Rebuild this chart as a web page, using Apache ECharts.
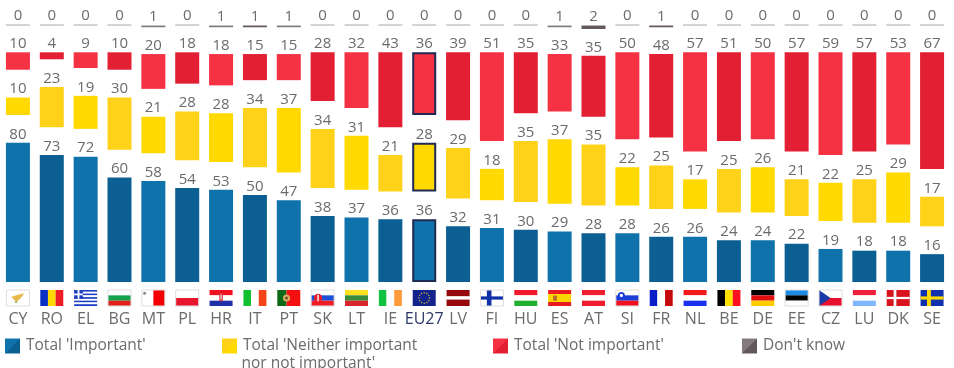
<!DOCTYPE html>
<html><head><meta charset="utf-8">
<style>html,body{margin:0;padding:0;background:#fff}#c{width:954px;height:368px}</style>
<script src="https://cdn.jsdelivr.net/npm/echarts@6/dist/echarts.min.js"></script>
</head><body><div id="c"></div>
<script>
var categories=['CY','RO','EL','BG','MT','PL','HR','IT','PT','SK','LT','IE','EU27','LV','FI','HU','ES','AT','SI','FR','NL','BE','DE','EE','CZ','LU','DK','SE'];
var important=[80,73,72,60,58,54,53,50,47,38,37,36,36,32,31,30,29,28,28,26,26,24,24,22,19,18,18,16];
var neither=[10,23,19,30,21,28,28,34,37,34,31,21,28,29,18,35,37,35,22,25,17,25,26,21,22,25,29,17];
var notImportant=[10,4,9,10,20,18,18,15,15,28,32,43,36,39,51,35,33,35,50,48,57,51,50,57,59,57,53,67];
var dontKnow=[0,0,0,0,1,0,1,1,1,0,0,0,0,0,0,0,1,2,0,1,0,0,0,0,0,0,0,0];

var GAP=16, DK_TOP=147.4, EU='EU27', NAVY='#1f2a52';
var TXT='#6b6a6d', FONT='"Open Sans",sans-serif';
var blue=['#1072ab','#0c5f92'], yellow=['#ffd900','#ffd21a'], red=['#f53243','#e21f33'], grey=['#827a7e','#63585c'];

function cells(vals,tones){
  return vals.map(function(v,i){
    var eu=categories[i]===EU;
    return {value:v,itemStyle:{color:tones[i%2],borderColor:eu?NAVY:null,borderWidth:eu?2:0}};
  });
}
function gapSeries(data){
  return {type:'bar',stack:'t',silent:true,barWidth:24,data:data,itemStyle:{color:'transparent'},label:{show:false},emphasis:{disabled:true}};
}
function valueSeries(name,vals,tones){
  return {name:name,type:'bar',stack:'t',barWidth:24,data:cells(vals,tones),
    label:{show:true,position:'top',distance:1,color:TXT,fontFamily:FONT,fontSize:15}};
}
var gaps=categories.map(function(){return GAP;});
var dkGap=categories.map(function(_,i){return DK_TOP-dontKnow[i]-important[i]-neither[i]-notImportant[i]-2*GAP;});
var dkData=dontKnow.map(function(v,i){return {value:v,itemStyle:{color:v===0?'#a9a7a8':grey[i%2]}};});

// flags: stripes [direction, [colour, weight]...] plus an optional device
var flags={
 CY:{d:'h',s:[['#fff',1]],x:'cy',o:1},RO:{d:'v',s:[['#0a2fc4',1],['#ffd800',1],['#ee1c25',1]]},
 EL:{d:'h',s:[['#1c3fc4',1],['#fff',1],['#1c3fc4',1],['#fff',1],['#1c3fc4',1],['#fff',1],['#1c3fc4',1],['#fff',1],['#1c3fc4',1]],x:'el'},
 BG:{d:'h',s:[['#fff',1],['#13a24a',1],['#e0201b',1]],o:1},MT:{d:'v',s:[['#fff',1],['#f40000',1]],x:'mt',o:1},
 PL:{d:'h',s:[['#fff',1],['#e8152f',1]],o:1},HR:{d:'h',s:[['#f01020',1],['#fff',1],['#2030a8',1]],x:'hr'},
 IT:{d:'v',s:[['#10c030',1],['#fff',1],['#f4451a',1]]},PT:{d:'v',s:[['#0c6a18',2],['#f21010',3]],x:'pt'},
 SK:{d:'h',s:[['#fff',1],['#1a4fd8',1],['#ee1c25',1]],x:'sk',o:1},LT:{d:'h',s:[['#fde020',1],['#3a8a3c',1],['#d8262c',1]]},
 IE:{d:'v',s:[['#10c040',1],['#fff',1],['#ff9a3a',1]]},EU27:{d:'h',s:[['#14238c',1]],x:'eu'},
 LV:{d:'h',s:[['#960a0e',2],['#fff',1],['#960a0e',2]]},FI:{d:'h',s:[['#fff',1]],x:'fi',o:1},
 HU:{d:'h',s:[['#f0182a',1],['#fff',1],['#22b030',1]]},ES:{d:'h',s:[['#e81c20',1],['#ffd400',2],['#e81c20',1]],x:'es'},
 AT:{d:'h',s:[['#f01c30',1],['#fff',1],['#f01c30',1]]},SI:{d:'h',s:[['#fff',1],['#1c3ed8',1],['#f01020',1]],x:'si',o:1},
 FR:{d:'v',s:[['#0a1ec8',1],['#fff',1],['#c40a0a',1]]},NL:{d:'h',s:[['#f4181c',1],['#fff',1],['#1c30f0',1]]},
 BE:{d:'v',s:[['#000',1],['#ffe000',1],['#ff0f1f',1]]},DE:{d:'h',s:[['#000',1],['#e01010',1],['#ffcc00',1]]},
 EE:{d:'h',s:[['#1a8ce8',1],['#000',1],['#fff',1]],o:1},CZ:{d:'h',s:[['#fff',1],['#e81030',1]],x:'cz',o:1},
 LU:{d:'h',s:[['#f0203a',1],['#fff',1],['#80b8ff',1]]},DK:{d:'h',s:[['#d8141e',1]],x:'dk'},SE:{d:'h',s:[['#1030b0',1]],x:'se'}
};
function rect(x,y,w,h,c){return {type:'rect',shape:{x:x,y:y,width:w,height:h},style:{fill:c}};}
function dot(x,y,r,c){return {type:'circle',shape:{cx:x,cy:y,r:r},style:{fill:c}};}
function flagDevice(k,x,y,w,h){
  switch(k){
    case 'cy':return [{type:'polygon',shape:{points:[[x+w*.22,y+h*.42],[x+w*.5,y+h*.3],[x+w*.78,y+h*.2],[x+w*.6,y+h*.55],[x+w*.45,y+h*.72],[x+w*.32,y+h*.6]]},style:{fill:'#e9b84a'}},dot(x+w*.42,y+h*.74,1.4,'#a8bd70')];
    case 'el':return [rect(x,y,w*.38,h*.55,'#1c3fc4'),rect(x,y+h*.22,w*.38,h*.11,'#fff'),rect(x+w*.15,y,w*.08,h*.55,'#fff')];
    case 'mt':return [dot(x+w*.12,y+h*.2,1.5,'#8a8a8a')];
    case 'hr':return [rect(x+w*.42,y+h*.2,w*.16,h*.5,'#d8404a'),rect(x+w*.47,y+h*.3,w*.06,h*.3,'#f4c8cc')];
    case 'pt':return [dot(x+w*.4,y+h*.5,h*.22,'#d8b060'),dot(x+w*.4,y+h*.5,h*.1,'#7a5040')];
    case 'sk':return [dot(x+w*.3,y+h*.5,h*.26,'#ee1c25'),rect(x+w*.27,y+h*.3,w*.06,h*.4,'#fff')];
    case 'eu':return Array.from({length:12},function(_,i){var a=i*Math.PI/6;return dot(x+w/2+h*.33*Math.cos(a),y+h/2+h*.33*Math.sin(a),.7,'#d8c830');});
    case 'fi':return [rect(x+w*.28,y,w*.2,h,'#1030a8'),rect(x,y+h*.4,w,h*.2,'#1030a8')];
    case 'es':return [rect(x+w*.22,y+h*.35,w*.16,h*.32,'#b8682c')];
    case 'si':return [dot(x+w*.24,y+h*.34,h*.22,'#1c3ed8'),dot(x+w*.24,y+h*.34,h*.1,'#fff')];
    case 'cz':return [{type:'polygon',shape:{points:[[x,y],[x+w*.5,y+h/2],[x,y+h]]},style:{fill:'#1a3aa8'}}];
    case 'dk':return [rect(x+w*.3,y,w*.12,h,'#fff'),rect(x,y+h*.43,w,h*.14,'#fff')];
    case 'se':return [rect(x+w*.28,y,w*.17,h,'#ffd800'),rect(x,y+h*.4,w,h*.2,'#ffd800')];
  }
  return [];
}
function renderFlag(params,api){
  var code=categories[api.value(0)], f=flags[code], p=api.coord([api.value(0),0]);
  var w=23,h=16,x=p[0]-w/2,y=p[1]+8,kids=[];
  var total=f.s.reduce(function(a,b){return a+b[1];},0),pos=0;
  f.s.forEach(function(st){
    var frac=st[1]/total;
    kids.push(f.d==='h'?rect(x,y+pos*h,w,frac*h,st[0]):rect(x+pos*w,y,frac*w,h,st[0]));
    pos+=frac;
  });
  if(f.x)kids=kids.concat(flagDevice(f.x,x,y,w,h));
  if(f.o)kids.push({type:'rect',shape:{x:x,y:y,width:w,height:h},style:{fill:'none',stroke:'#dedede',lineWidth:1}});
  return {type:'group',children:kids};
}
function split(a,b){
  return {type:'linear',x:0,y:0,x2:1,y2:1,colorStops:[{offset:0,color:a},{offset:.5,color:a},{offset:.5,color:b},{offset:1,color:b}]};
}
var legendItems=[
 {name:"Total 'Important'",left:5,c:split(blue[0],blue[1])},
 {name:"Total 'Neither important nor not important'",left:222,c:split(yellow[1],yellow[0]),first:"Total 'Neither important"},
 {name:"Total 'Not important'",left:493,c:split(red[0],red[1])},
 {name:"Don't know",left:742,c:split(grey[0],grey[1])}
];
var option={
 animation:false,
 grid:{left:1,right:5,top:3.6,bottom:86},
 xAxis:{type:'category',data:categories,axisLine:{show:false},axisTick:{show:false},
   axisLabel:{interval:0,margin:29,color:TXT,fontFamily:FONT,fontSize:16,
     formatter:function(v){return v===EU?'{eu|'+v+'}':v;},
     rich:{eu:{color:'#2b3a66',fontFamily:FONT,fontSize:16}}}},
 yAxis:{type:'value',min:0,max:160,show:false,splitLine:{show:false}},
 legend:legendItems.map(function(l){return {
   data:[{name:l.name,itemStyle:{color:l.c,borderWidth:0}}],left:l.left,top:338,padding:0,itemWidth:15,itemHeight:15,itemGap:0,
   icon:'rect',selectedMode:false,
   textStyle:{color:TXT,fontFamily:FONT,fontSize:15.5,padding:[0,0,0,1]},
   formatter:function(){return l.first||l.name;}
 };}),
 graphic:[{type:'text',left:241.5,top:355.5,style:{text:"nor not important'",fill:TXT,font:'15.5px "Open Sans",sans-serif'}}],
 series:[
  valueSeries(legendItems[0].name,important,blue),gapSeries(gaps),
  valueSeries(legendItems[1].name,neither,yellow),gapSeries(gaps),
  valueSeries(legendItems[2].name,notImportant,red),gapSeries(dkGap),
  {name:legendItems[3].name,type:'bar',stack:'t',barWidth:24,barMinHeight:1,data:dkData,
    label:{show:true,position:'top',distance:1,color:TXT,fontFamily:FONT,fontSize:15}},
  {type:'custom',silent:true,data:categories.map(function(_,i){return [i];}),renderItem:renderFlag,clip:false,encode:{x:0},z:5}
 ]
};
echarts.init(document.getElementById('c'),null,{renderer:'canvas'}).setOption(option);
</script></body></html>
